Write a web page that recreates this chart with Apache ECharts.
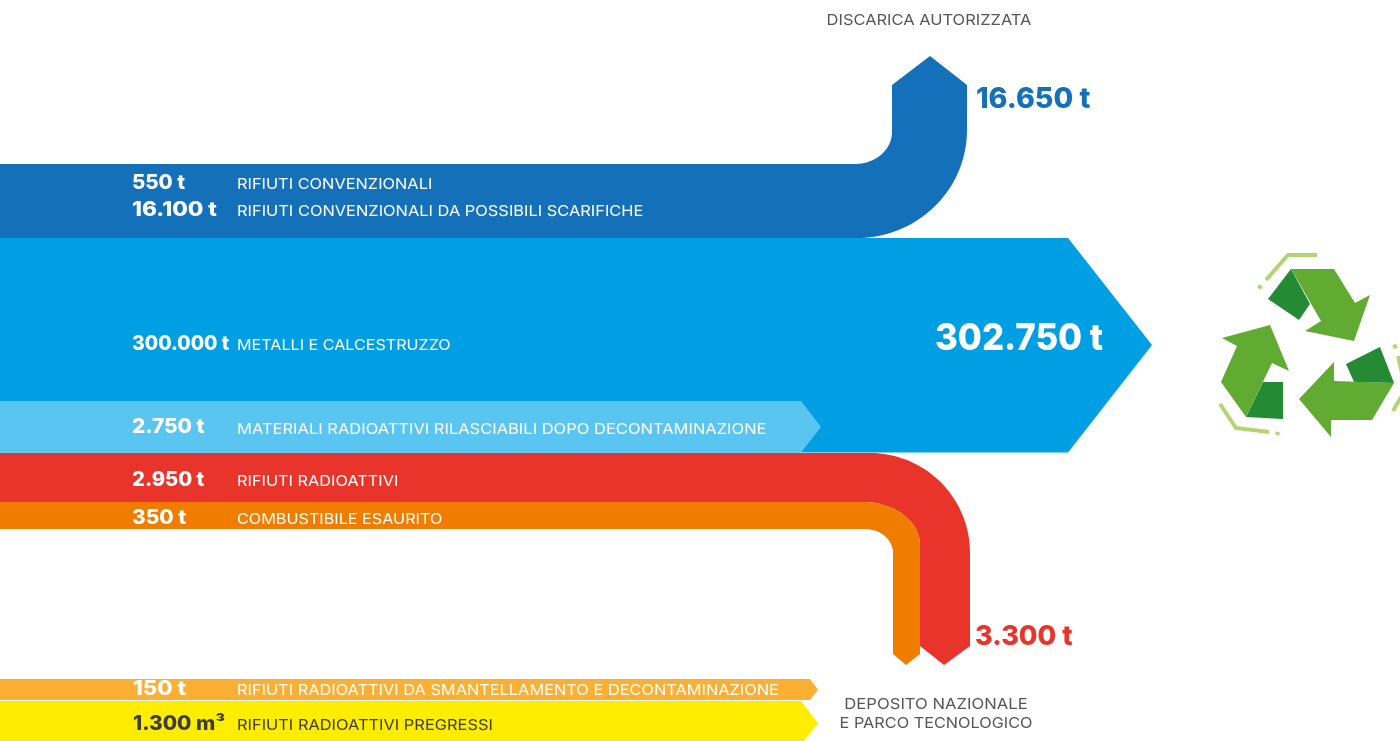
<!DOCTYPE html>
<html lang="it">
<head>
<meta charset="utf-8">
<title>Destinazione dei materiali</title>
<style>html,body{margin:0;padding:0;background:#fff;overflow:hidden}#chart{width:1400px;height:741px}</style>
<script src="https://cdn.jsdelivr.net/npm/echarts@6/dist/echarts.min.js"></script>
</head>
<body>
<div id="chart"></div>
<script>
// Materials and their quantities
const materialNames = [
  'RIFIUTI CONVENZIONALI',
  'RIFIUTI CONVENZIONALI DA POSSIBILI SCARIFICHE',
  'METALLI E CALCESTRUZZO',
  'MATERIALI RADIOATTIVI RILASCIABILI DOPO DECONTAMINAZIONE',
  'RIFIUTI RADIOATTIVI',
  'COMBUSTIBILE ESAURITO',
  'RIFIUTI RADIOATTIVI DA SMANTELLAMENTO E DECONTAMINAZIONE',
  'RIFIUTI RADIOATTIVI PREGRESSI'
];
const materialQuantities = [550, 16100, 300000, 2750, 2950, 350, 150, 1300];
const materialUnits = ['t', 't', 't', 't', 't', 't', 't', 'm³'];

// Totals per destination
const flowTotals = [16650, 302750, 3300];

const FONT = 'Inter, "Open Sans", sans-serif';
const CYAN = '#009FE3', BLUE = '#1370B9', RED = '#E9342B', ORANGE = '#F07D00',
      PALE = '#5BC5F2', AMBER = '#FBB034', YELLOW = '#FFED00';

const thousands = n => String(n).replace(/\B(?=(\d{3})+$)/g, '.');

// Outlines in axis units; an entry with six numbers is an elliptical arc
// [cx, cy, rx, ry, startDeg, endDeg], otherwise a plain vertex.
const flowShapes = [
  { fill: BLUE, path: [[0,164],[855,164],[855,132,37,32,90,0],[892,85],[930,56],[967,85],
                       [857,130,110,108,0,90],[0,238]] },
  { fill: CYAN, path: [[0,238],[1068,238],[1152,345],[1068,452.5],[0,452.5]] },
  { fill: PALE, path: [[0,401],[801,401],[821,427],[801,452.5],[0,452.5]] },
  { fill: RED, path: [[0,453],[870,453],[870,553,100,100,-90,0],[970,646],[944,665],[920,646],
                      [863,545,57,43,0,-90],[0,502]] },
  { fill: ORANGE, path: [[0,502],[863,502],[863,545,57,43,-90,0],[920,654],[906,665],[893,654],
                         [865,553,28,24,0,-90],[0,529]] },
  { fill: AMBER, path: [[0,679],[810,679],[818,689.5],[810,700],[0,700]] },
  { fill: YELLOW, path: [[0,701],[801,701],[818,723],[804,741],[0,741]] }
];

// Recycling emblem
const LEAF = '#62AB33', LEAF_DARK = '#248A33', LEAF_PALE = '#B2D571';
const emblemFaces = [
  { fill: LEAF_DARK, path: [[1291,269],[1268,299],[1299,320],[1310,304]] },
  { fill: LEAF, path: [[1291,269],[1334,269],[1355,303],[1370,295],[1354,341],[1305,331],[1321,321]] },
  { fill: LEAF_DARK, path: [[1263,382],[1283,382],[1283,419],[1246,417]] },
  { fill: LEAF, path: [[1270,325],[1289,371],[1272,363],[1246,417],[1221,382],[1237,346],[1222,338]] },
  { fill: LEAF_DARK, path: [[1346,364],[1380,347],[1394,383],[1354,382]] },
  { fill: LEAF, path: [[1394,383],[1372,420],[1331,420],[1331,437],[1299,399],[1334,362],[1334,381]] }
];
const emblemStrokes = [
  [[1317,255],[1288,255],[1266,280]],
  [[1258,286],[1262,288]],
  [[1220,404],[1236,428],[1269,432]],
  [[1278,432],[1277,435]],
  [[1393,347],[1397,346]],
  [[1398,356],[1404,382]],
  [[1393,411],[1404,392]]
];

// Text rows: quantity and description share a row; sx/lsx stretch each run to its set width
const rowLayout = [
  { x: 132, y: 183, ly: 184, sx: 1.02, lsx: 1.09, fill: '#fff' },
  { x: 132, y: 210, ly: 211, sx: 1.13, lsx: 1.094, fill: '#fff' },
  { x: 132, y: 344, ly: 345, sx: 0.97, lsx: 1.075, fill: '#fff' },
  { x: 132, y: 427, ly: 429, sx: 1.04, lsx: 1.10, fill: '#fff' },
  { x: 132, y: 480, ly: 481, sx: 1.01, lsx: 1.088, fill: '#fff' },
  { x: 132, y: 518, ly: 519, sx: 1.04, lsx: 1.08, fill: '#fff' },
  { x: 133, y: 689, ly: 690, sx: 1.11, lsx: 1.09, fill: '#fff' },
  { x: 133, y: 724, ly: 725, sx: 1.04, lsx: 1.094, fill: '#3C3C3B' }
];
const totalLayout = [
  { x: 976, y: 100, size: 28, sx: 1.02, fill: BLUE },
  { x: 935, y: 339, size: 37, sx: 0.94, fill: '#fff' },
  { x: 975, y: 637, size: 27, sx: 1.00, fill: RED }
];
const destinations = [
  { text: 'DISCARICA AUTORIZZATA', x: 929, y: 20, sx: 1.097 },
  { text: 'DEPOSITO NAZIONALE', x: 936, y: 704, sx: 1.11 },
  { text: 'E PARCO TECNOLOGICO', x: 936, y: 723, sx: 1.084 }
];

function outline(path, api) {
  const pts = [];
  path.forEach(p => {
    if (p.length === 6) {
      const [cx, cy, rx, ry, a0, a1] = p;
      for (let i = 0; i <= 40; i++) {
        const a = (a0 + (a1 - a0) * i / 40) * Math.PI / 180;
        pts.push(api.coord([cx + rx * Math.cos(a), cy + ry * Math.sin(a)]));
      }
    } else {
      pts.push(api.coord(p));
    }
  });
  return pts;
}

function shapeSeries(name, shapes) {
  return {
    name, type: 'custom', coordinateSystem: 'cartesian2d', silent: true, clip: false,
    animation: false,
    data: shapes.map((_, i) => [i]),
    renderItem(params, api) {
      const s = shapes[params.dataIndex];
      return { type: 'polygon', shape: { points: outline(s.path, api) }, style: { fill: s.fill } };
    }
  };
}

function text(api, x, y, str, size, weight, fill, sx, align) {
  const c = api.coord([x, y]);
  return { type: 'text', x: c[0], y: c[1], scaleX: sx, scaleY: 1,
    style: { x: 0, y: 0, text: str, fontFamily: FONT, fontSize: size,
      fontWeight: weight, fill, align: align || 'left', verticalAlign: 'middle' } };
}

const chart = echarts.init(document.getElementById('chart'), null, { renderer: 'canvas' });
chart.setOption({
  animation: false,
  backgroundColor: '#fff',
  grid: { left: 0, right: 0, top: 0, bottom: 0 },
  xAxis: { type: 'value', min: 0, max: 1400, show: false },
  yAxis: { type: 'value', min: 0, max: 741, inverse: true, show: false },
  series: [
    shapeSeries('flussi', flowShapes),
    shapeSeries('emblema', emblemFaces),
    {
      name: 'emblema-contorno', type: 'custom', coordinateSystem: 'cartesian2d', silent: true,
      clip: false, animation: false,
      data: emblemStrokes.map((_, i) => [i]),
      renderItem(params, api) {
        return { type: 'polyline',
          shape: { points: emblemStrokes[params.dataIndex].map(p => api.coord(p)) },
          style: { fill: 'none', stroke: LEAF_PALE, lineWidth: 4 } };
      }
    },
    {
      name: 'quantità', type: 'custom', coordinateSystem: 'cartesian2d', silent: true,
      clip: false, animation: false,
      data: materialQuantities.map((v, i) => [v, i]),
      renderItem(params, api) {
        const i = params.dataIndex, r = rowLayout[i];
        return { type: 'group', children: [
          text(api, r.x, r.y, thousands(materialQuantities[i]) + ' ' + materialUnits[i], 20, 800, r.fill, r.sx),
          text(api, 237, r.ly, materialNames[i], 15, 400, r.fill, r.lsx)
        ] };
      }
    },
    {
      name: 'totali', type: 'custom', coordinateSystem: 'cartesian2d', silent: true,
      clip: false, animation: false,
      data: flowTotals.map((v, i) => [v, i]),
      renderItem(params, api) {
        const i = params.dataIndex, t = totalLayout[i];
        return text(api, t.x, t.y, thousands(flowTotals[i]) + ' t', t.size, 800, t.fill, t.sx);
      }
    },
    {
      name: 'destinazioni', type: 'custom', coordinateSystem: 'cartesian2d', silent: true,
      clip: false, animation: false,
      data: destinations.map((_, i) => [i]),
      renderItem(params, api) {
        const d = destinations[params.dataIndex];
        return text(api, d.x, d.y, d.text, 15, 400, '#575756', d.sx, 'center');
      }
    }
  ]
});
</script>
</body>
</html>
